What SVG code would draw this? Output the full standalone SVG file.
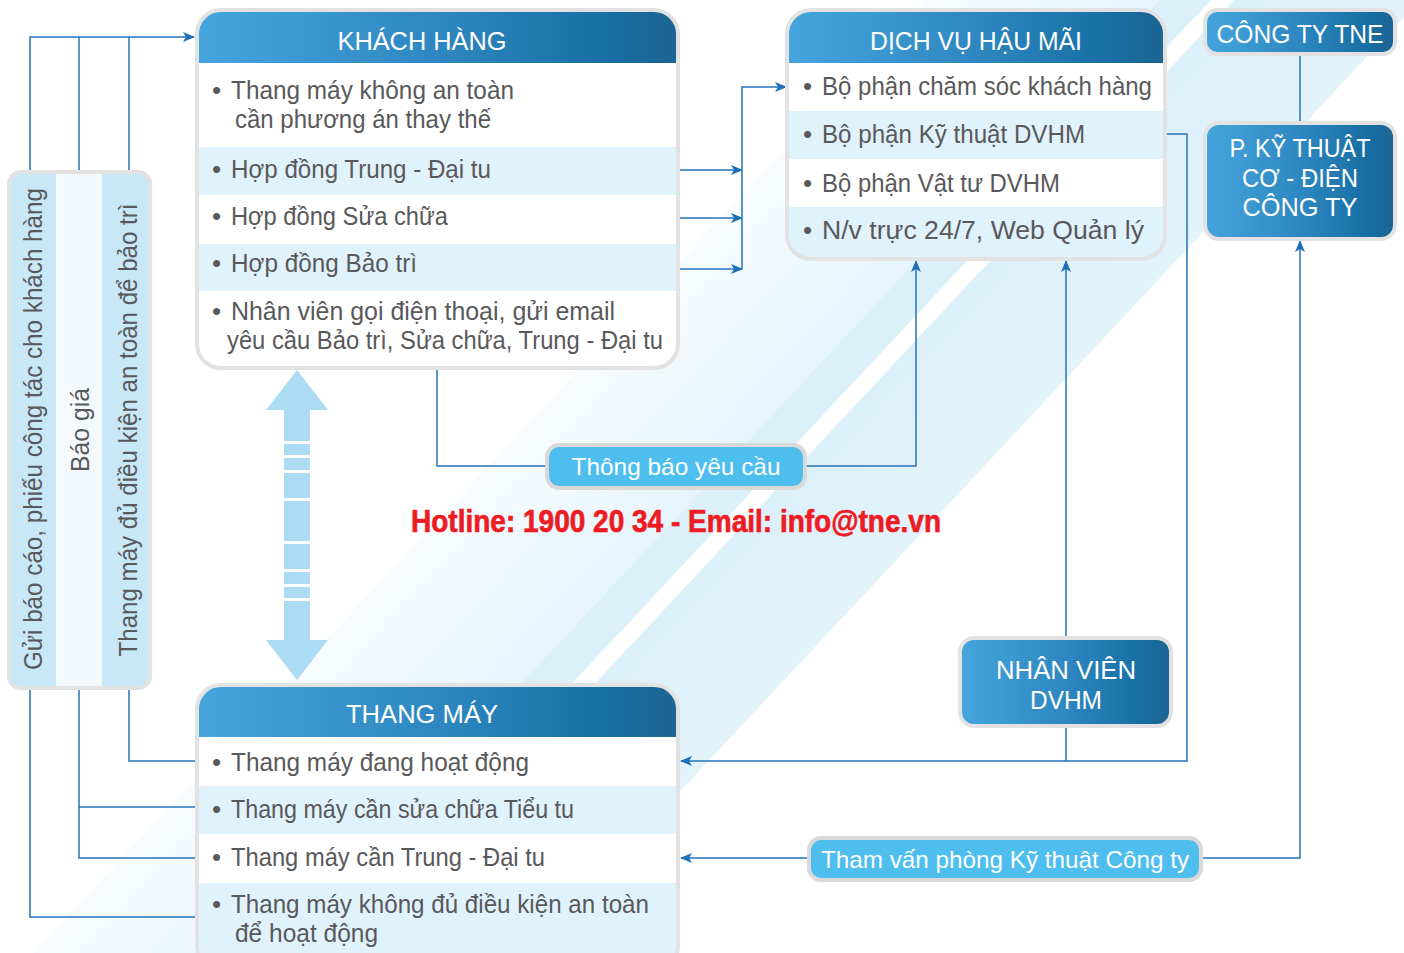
<svg xmlns="http://www.w3.org/2000/svg" width="1404" height="953" viewBox="0 0 1404 953">
<defs>
<linearGradient id="hdr" x1="0" y1="0" x2="1" y2="0">
<stop offset="0" stop-color="#46a5dd"/><stop offset="0.5" stop-color="#2e87c0"/><stop offset="0.85" stop-color="#176fa4"/><stop offset="1" stop-color="#1d6492"/>
</linearGradient>
<linearGradient id="faint" gradientUnits="userSpaceOnUse" x1="479" y1="476" x2="605" y2="594">
<stop offset="0" stop-color="#f8fcfe"/><stop offset="1" stop-color="#e6f4fb"/>
</linearGradient>
<linearGradient id="band2" gradientUnits="userSpaceOnUse" x1="820" y1="440" x2="990" y2="600">
<stop offset="0" stop-color="#dcf0fa"/><stop offset="1" stop-color="#e8f5fc"/>
</linearGradient>
<marker id="ah" markerWidth="12" markerHeight="10" refX="11" refY="5" orient="auto" markerUnits="userSpaceOnUse">
<path d="M0,0 L12,5 L0,10 L3,5 Z" fill="#1f6fb8"/>
</marker>
<clipPath id="cKH"><rect x="197" y="10" width="481" height="358" rx="24"/></clipPath>
<clipPath id="cDV"><rect x="787" y="10" width="378" height="249" rx="24"/></clipPath>
<clipPath id="cTM"><rect x="197" y="685" width="481" height="285" rx="24"/></clipPath>
<clipPath id="cLP"><rect x="9" y="172" width="141" height="516" rx="12"/></clipPath>
<style>
.b{font-family:"Liberation Sans",Arial,sans-serif;font-size:26px;fill:#59595b}
.t{font-family:"Liberation Sans",Arial,sans-serif;font-size:26px;fill:#ffffff;text-anchor:middle}
.l{font-family:"Liberation Sans",Arial,sans-serif;font-size:24px;fill:#ffffff;text-anchor:middle}
.v{font-family:"Liberation Sans",Arial,sans-serif;font-size:25px;fill:#59595b;text-anchor:middle}
.row{fill:#e0f2fb}
.frame{fill:none;stroke:#e2e2e2;stroke-width:4}
.c{fill:none;stroke:#2474bb;stroke-width:1.5}
.pill{fill:#4dbeee;stroke:#d9d9d9;stroke-width:4}
.dbl{fill:#acdcf3}
</style>
</defs>

<g id="background">
<rect x="0" y="0" width="1404" height="953" fill="#ffffff"/>
<polygon points="924,0 1160,0 269,953 33,953" fill="url(#faint)"/>
<polygon points="1160,0 1211,0 320,953 269,953" fill="#dcf0fa"/>
<polygon points="1234,0 1420,0 529,953 343,953" fill="url(#band2)"/>
</g>

<g id="connectors">
<path class="c" d="M30,171 V37 H194" marker-end="url(#ah)"/>
<path class="c" d="M79,171 V37"/>
<path class="c" d="M129,171 V37"/>
<path class="c" d="M30,689 V917 H197"/>
<path class="c" d="M79,689 V858 H197"/>
<path class="c" d="M79,807 H197"/>
<path class="c" d="M129,689 V761 H197"/>
<path class="c" d="M680,170 H742" marker-end="url(#ah)"/>
<path class="c" d="M680,218 H742" marker-end="url(#ah)"/>
<path class="c" d="M680,269 H742" marker-end="url(#ah)"/>
<path class="c" d="M742,269 V87 H786" marker-end="url(#ah)"/>
<path class="c" d="M437,369 V466 H547"/>
<path class="c" d="M806,466 H916 V261" marker-end="url(#ah)"/>
<path class="c" d="M1066,637 V261" marker-end="url(#ah)"/>
<path class="c" d="M1066,727 V761"/>
<path class="c" d="M1166,134 H1187 V761 H681" marker-end="url(#ah)"/>
<path class="c" d="M807,858 H681" marker-end="url(#ah)"/>
<path class="c" d="M1202,858 H1300 V241" marker-end="url(#ah)"/>
<path class="c" d="M1300,54 V123"/>
</g>

<g id="left-panel">
<g clip-path="url(#cLP)">
<rect x="9" y="172" width="47" height="516" fill="#c8e7f7"/>
<rect x="56" y="172" width="46" height="516" fill="#f3f9fd"/>
<rect x="102" y="172" width="48" height="516" fill="#c8e7f7"/>
</g>
<rect class="frame" x="9" y="172" width="141" height="516" rx="12"/>
<text class="v" transform="translate(42,429) rotate(-90)" textLength="482" lengthAdjust="spacingAndGlyphs">Gửi báo cáo, phiếu công tác cho khách hàng</text>
<text class="v" transform="translate(89,430) rotate(-90)" textLength="84" lengthAdjust="spacingAndGlyphs">Báo giá</text>
<text class="v" transform="translate(137,430) rotate(-90)" textLength="453" lengthAdjust="spacingAndGlyphs">Thang máy đủ điều kiện an toàn để bảo trì</text>
</g>

<g id="khach-hang">
<g clip-path="url(#cKH)">
<rect x="197" y="10" width="481" height="358" fill="#ffffff"/>
<rect x="197" y="10" width="481" height="53" fill="url(#hdr)"/>
<rect class="row" x="197" y="147" width="481" height="48"/>
<rect class="row" x="197" y="244" width="481" height="47"/>
</g>
<rect class="frame" x="197" y="10" width="481" height="358" rx="24"/>
<text class="t" x="422" y="50" textLength="169" lengthAdjust="spacingAndGlyphs">KHÁCH HÀNG</text>
<text class="b" x="212" y="99">•</text>
<text class="b" x="231" y="99" textLength="283" lengthAdjust="spacingAndGlyphs">Thang máy không an toàn</text>
<text class="b" x="235" y="128" textLength="256" lengthAdjust="spacingAndGlyphs">cần phương án thay thế</text>
<text class="b" x="212" y="178">•</text>
<text class="b" x="231" y="178" textLength="260" lengthAdjust="spacingAndGlyphs">Hợp đồng Trung - Đại tu</text>
<text class="b" x="212" y="225">•</text>
<text class="b" x="231" y="225" textLength="217" lengthAdjust="spacingAndGlyphs">Hợp đồng Sửa chữa</text>
<text class="b" x="212" y="272">•</text>
<text class="b" x="231" y="272" textLength="186" lengthAdjust="spacingAndGlyphs">Hợp đồng Bảo trì</text>
<text class="b" x="212" y="320">•</text>
<text class="b" x="231" y="320" textLength="384" lengthAdjust="spacingAndGlyphs">Nhân viên gọi điện thoại, gửi email</text>
<text class="b" x="227" y="349" textLength="436" lengthAdjust="spacingAndGlyphs">yêu cầu Bảo trì, Sửa chữa, Trung - Đại tu</text>
</g>

<g id="dich-vu-hau-mai">
<g clip-path="url(#cDV)">
<rect x="787" y="10" width="378" height="249" fill="#ffffff"/>
<rect x="787" y="10" width="378" height="53" fill="url(#hdr)"/>
<rect class="row" x="787" y="111" width="378" height="48"/>
<rect class="row" x="787" y="207" width="378" height="52"/>
</g>
<rect class="frame" x="787" y="10" width="378" height="249" rx="24"/>
<text class="t" x="976" y="50" textLength="212" lengthAdjust="spacingAndGlyphs">DỊCH VỤ HẬU MÃI</text>
<text class="b" x="803" y="95">•</text>
<text class="b" x="822" y="95" textLength="330" lengthAdjust="spacingAndGlyphs">Bộ phận chăm sóc khách hàng</text>
<text class="b" x="803" y="143">•</text>
<text class="b" x="822" y="143" textLength="263" lengthAdjust="spacingAndGlyphs">Bộ phận Kỹ thuật DVHM</text>
<text class="b" x="803" y="192">•</text>
<text class="b" x="822" y="192" textLength="238" lengthAdjust="spacingAndGlyphs">Bộ phận Vật tư DVHM</text>
<text class="b" x="803" y="239">•</text>
<text class="b" x="822" y="239" textLength="322" lengthAdjust="spacingAndGlyphs">N/v trực 24/7, Web Quản lý</text>
</g>

<g id="cong-ty-tne">
<rect x="1205" y="10" width="190" height="44" rx="12" fill="url(#hdr)" stroke="#e2e2e2" stroke-width="4"/>
<text class="t" x="1300" y="43" textLength="167" lengthAdjust="spacingAndGlyphs">CÔNG TY TNE</text>
</g>

<g id="p-ky-thuat">
<rect x="1205" y="123" width="190" height="116" rx="14" fill="url(#hdr)" stroke="#e2e2e2" stroke-width="4"/>
<text class="t" x="1300" y="157" textLength="141" lengthAdjust="spacingAndGlyphs">P. KỸ THUẬT</text>
<text class="t" x="1300" y="187" textLength="116" lengthAdjust="spacingAndGlyphs">CƠ - ĐIỆN</text>
<text class="t" x="1300" y="216" textLength="115" lengthAdjust="spacingAndGlyphs">CÔNG TY</text>
</g>

<g id="nhan-vien-dvhm">
<rect x="960" y="638" width="211" height="88" rx="14" fill="url(#hdr)" stroke="#e2e2e2" stroke-width="4"/>
<text class="t" x="1066" y="679" textLength="140" lengthAdjust="spacingAndGlyphs">NHÂN VIÊN</text>
<text class="t" x="1066" y="709" textLength="72" lengthAdjust="spacingAndGlyphs">DVHM</text>
</g>

<g id="thong-bao-yeu-cau">
<rect class="pill" x="547" y="445" width="258" height="43" rx="12"/>
<text class="l" x="676" y="475" textLength="209" lengthAdjust="spacingAndGlyphs">Thông báo yêu cầu</text>
</g>

<g id="tham-van">
<rect class="pill" x="809" y="838" width="392" height="42" rx="12"/>
<text class="l" x="1005" y="868" textLength="368" lengthAdjust="spacingAndGlyphs">Tham vấn phòng Kỹ thuật Công ty</text>
</g>

<g id="hotline">
<text x="411" y="532" font-family="'Liberation Sans Narrow','Liberation Sans',Arial,sans-serif" font-weight="bold" font-size="32" fill="#ed1c24" stroke="#ed1c24" stroke-width="0.7" textLength="530" lengthAdjust="spacingAndGlyphs">Hotline: 1900 20 34 - Email: info@tne.vn</text>
</g>

<g id="double-arrow">
<polygon class="dbl" points="297,370 328,410 266,410"/>
<rect class="dbl" x="284" y="409" width="26" height="32"/>
<rect class="dbl" x="284" y="444" width="26" height="11"/>
<rect class="dbl" x="284" y="458" width="26" height="12"/>
<rect class="dbl" x="284" y="473" width="26" height="25"/>
<rect class="dbl" x="284" y="501" width="26" height="40"/>
<rect class="dbl" x="284" y="544" width="26" height="25"/>
<rect class="dbl" x="284" y="572" width="26" height="12"/>
<rect class="dbl" x="284" y="587" width="26" height="11"/>
<rect class="dbl" x="284" y="601" width="26" height="40"/>
<polygon class="dbl" points="266,640 328,640 297,680"/>
</g>

<g id="thang-may">
<g clip-path="url(#cTM)">
<rect x="197" y="685" width="481" height="285" fill="#ffffff"/>
<rect x="197" y="685" width="481" height="52" fill="url(#hdr)"/>
<rect class="row" x="197" y="786" width="481" height="48"/>
<rect class="row" x="197" y="883" width="481" height="87"/>
</g>
<rect class="frame" x="197" y="685" width="481" height="285" rx="24"/>
<text class="t" x="422" y="723" textLength="152" lengthAdjust="spacingAndGlyphs">THANG MÁY</text>
<text class="b" x="212" y="771">•</text>
<text class="b" x="231" y="771" textLength="298" lengthAdjust="spacingAndGlyphs">Thang máy đang hoạt động</text>
<text class="b" x="212" y="818">•</text>
<text class="b" x="231" y="818" textLength="343" lengthAdjust="spacingAndGlyphs">Thang máy cần sửa chữa Tiểu tu</text>
<text class="b" x="212" y="866">•</text>
<text class="b" x="231" y="866" textLength="314" lengthAdjust="spacingAndGlyphs">Thang máy cần Trung - Đại tu</text>
<text class="b" x="212" y="913">•</text>
<text class="b" x="231" y="913" textLength="418" lengthAdjust="spacingAndGlyphs">Thang máy không đủ điều kiện an toàn</text>
<text class="b" x="235" y="942" textLength="143" lengthAdjust="spacingAndGlyphs">để hoạt động</text>
</g>
</svg>
